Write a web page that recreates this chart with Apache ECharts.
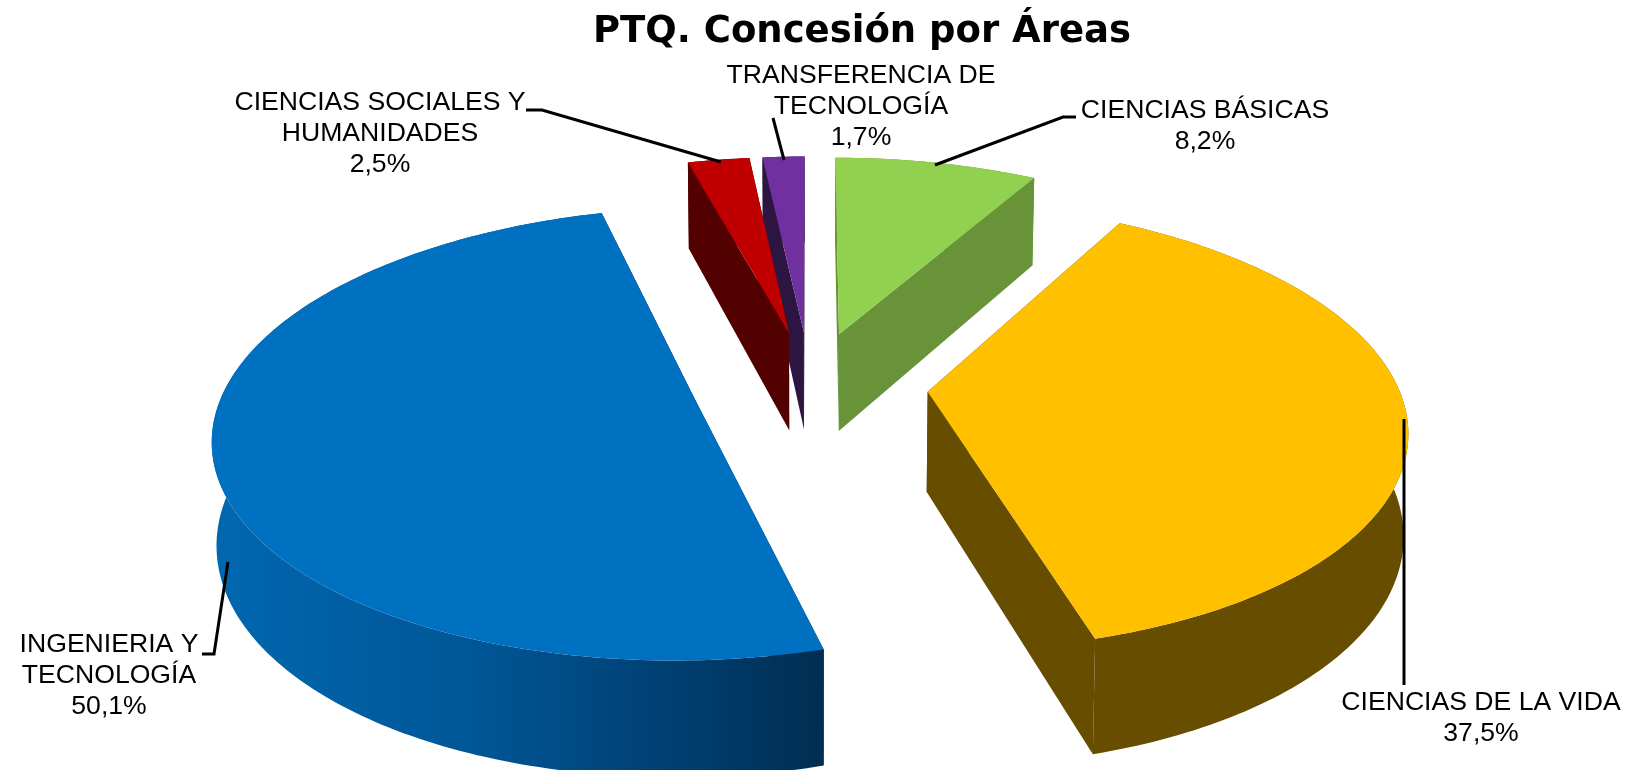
<!DOCTYPE html>
<html><head><meta charset="utf-8">
<style>html,body{margin:0;padding:0;background:#fff}#c{width:1634px;height:770px}</style>
<script src="https://cdn.jsdelivr.net/npm/echarts@6/dist/echarts.min.js"></script>
</head><body><div id="c"></div>
<script>
const chartTitle = 'PTQ. Concesión por Áreas';
const categories = ['CIENCIAS BÁSICAS', 'CIENCIAS DE LA VIDA', 'INGENIERIA Y TECNOLOGÍA', 'CIENCIAS SOCIALES Y HUMANIDADES', 'TRANSFERENCIA DE TECNOLOGÍA'];
const percentValues = [8.2, 37.5, 50.1, 2.5, 1.7];
const labelLines = [['CIENCIAS BÁSICAS'], ['CIENCIAS DE LA VIDA'], ['INGENIERIA Y', 'TECNOLOGÍA'], ['CIENCIAS SOCIALES Y', 'HUMANIDADES'], ['TRANSFERENCIA DE', 'TECNOLOGÍA']];

// styling and layout, separate from the data
const topColors = ['#92D050', '#FFC000', '#0070C0', '#C00000', '#7030A0'];
const wallColors = ['#689338', '#664D00', null, '#520000', '#2D1542'];
const blueWallStops = [[0, '#0068B0'], [0.45, '#005594'], [0.8, '#003C6C'], [1, '#002E52']];
const labelCentres = [[1205, 126], [1481, 718], [109, 676], [380, 134], [861, 107]];
const leaderPaths = [
  [[1076, 117], [1063, 117], [935, 165]],
  [[1404, 419], [1404, 685]],
  [[202, 654], [214, 654], [228, 562]],
  [[526, 110], [542, 110], [721, 162]],
  [[773, 118], [784, 160]]
];
const view = { cx: 810, cy: 385, rx: 470, ry: 217, depth: 100, explode: 118, camera: 6.66, shrink: 0.008 };

function scaleAt(z) { return 1 / (1 - z / view.camera); }
function project(X, Z, low) {
  const s = scaleAt(Z);
  const f = 1 - low * view.shrink;
  return [view.cx + X * view.rx * s * f, view.cy + Z * view.ry * s * f + low * view.depth * s];
}

const total = percentValues.reduce((a, b) => a + b, 0);
const starts = [];
percentValues.reduce((acc, v, i) => { starts[i] = acc; return acc + v; }, 0);

function renderSlice(params, api) {
  const idx = api.value(0), val = api.value(1);
  const a0 = starts[idx] / total * 2 * Math.PI;
  const a1 = a0 + val / total * 2 * Math.PI;
  const mid = (a0 + a1) / 2;
  const e = view.explode / view.rx;
  const ox = Math.sin(mid) * e, oz = -Math.cos(mid) * e;
  const steps = Math.max(2, Math.ceil((a1 - a0) / (Math.PI / 180)));
  const arcTop = [], arcLow = [];
  for (let i = 0; i <= steps; i++) {
    const t = a0 + (a1 - a0) * i / steps;
    const X = ox + Math.sin(t), Z = oz - Math.cos(t);
    arcTop.push(project(X, Z, 0));
    arcLow.push(project(X, Z, 1));
  }
  const apexTop = project(ox, oz, 0), apexLow = project(ox, oz, 1);
  const wallFill = wallColors[idx] || new echarts.graphic.LinearGradient(0, 0, 1, 0,
    blueWallStops.map(s => ({ offset: s[0], color: s[1] })));
  const flat = wallColors[idx] || blueWallStops[3][1];
  const z0 = Math.round(oz * 100) * 10 + 1000;
  const poly = (points, fill, z) => ({ type: 'polygon', z2: z, shape: { points }, style: { fill, stroke: null } });
  return {
    type: 'group',
    children: [
      poly([apexTop, arcTop[0], arcLow[0], apexLow], flat, z0),
      poly([apexTop, arcTop[steps], arcLow[steps], apexLow], flat, z0 + 1),
      poly(arcTop.concat(arcLow.slice().reverse()), wallFill, z0 + 2),
      poly([apexTop].concat(arcTop), topColors[idx], z0 + 3)
    ]
  };
}

const textGraphics = labelLines.map((lines, i) => ({
  type: 'text',
  x: labelCentres[i][0],
  y: labelCentres[i][1],
  silent: true,
  z: 10,
  style: {
    text: lines.concat(percentValues[i].toFixed(1).replace('.', ',') + '%').join('\n'),
    font: '26.6px "Liberation Sans", Arial, sans-serif',
    lineHeight: 31,
    fill: '#000',
    align: 'center',
    verticalAlign: 'middle'
  }
}));
const lineGraphics = leaderPaths.map(p => ({
  type: 'polyline', silent: true, z: 9,
  shape: { points: p },
  style: { stroke: '#000', lineWidth: 3, fill: null }
}));

const chart = echarts.init(document.getElementById('c'), null, { renderer: 'canvas' });
chart.setOption({
  animation: false,
  backgroundColor: '#fff',
  title: {
    text: chartTitle, left: 857, top: 9, textAlign: 'center',
    textStyle: { fontFamily: '"DejaVu Sans", Verdana, sans-serif', fontWeight: 'bold', fontSize: 37, color: '#000' }
  },
  graphic: lineGraphics.concat(textGraphics),
  series: [{
    type: 'custom',
    coordinateSystem: 'none',
    silent: true,
    clip: false,
    renderItem: renderSlice,
    encode: { itemName: 2, value: 1 },
    data: percentValues.map((v, i) => [i, v, categories[i]])
  }]
});
</script></body></html>
